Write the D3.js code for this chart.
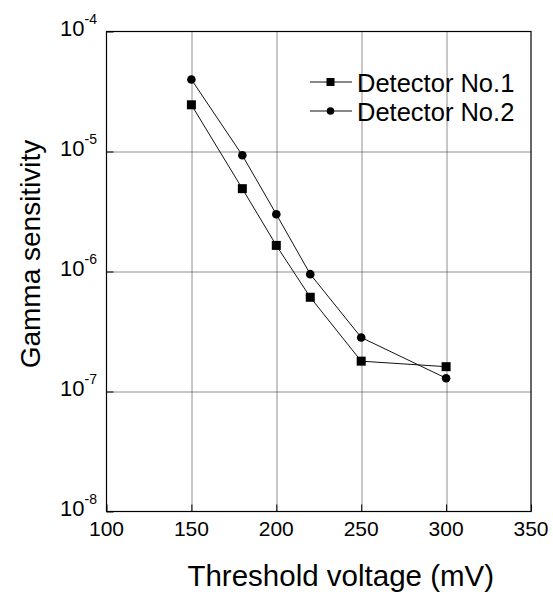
<!DOCTYPE html>
<html>
<head>
<meta charset="utf-8">
<script src="https://cdn.jsdelivr.net/npm/d3@7"></script>
<style>
  body { margin: 0; background: #fff; }
  text { font-family: "Liberation Sans", Arial, sans-serif; fill: #000; }
</style>
</head>
<body>
<div id="chart"></div>
<script>
var voltages = [150, 180, 200, 220, 250, 300];
var detector1 = [2.45e-5, 4.9e-6, 1.65e-6, 6.1e-7, 1.79e-7, 1.61e-7];
var detector2 = [3.98e-5, 9.3e-6, 3.0e-6, 9.5e-7, 2.82e-7, 1.29e-7];
var seriesNames = ["Detector No.1", "Detector No.2"];
var xTicks = [100, 150, 200, 250, 300, 350];
var yExponents = [-8, -7, -6, -5, -4];

var svgWidth = 553;
var svgHeight = 595;

var margin = { top: 31.5, right: 22, bottom: 83.5, left: 106.5 };
var chartWidth = svgWidth - margin.left - margin.right;
var chartHeight = svgHeight - margin.top - margin.bottom;

var svg = d3.select("#chart")
  .append("svg")
  .attr("width", svgWidth)
  .attr("height", svgHeight);

var chartGroup = svg.append("g")
  .attr("transform", `translate(${margin.left}, ${margin.top})`);

var xScale = d3.scaleLinear().domain([100, 350]).range([0, chartWidth]);
var yScale = d3.scaleLog().domain([1e-8, 1e-4]).range([chartHeight, 0]);

// dotted grid
chartGroup.selectAll(".vgrid")
  .data(xTicks.slice(1, -1))
  .enter().append("line")
  .attr("x1", d => Math.round(xScale(d)) + 0.5).attr("x2", d => Math.round(xScale(d)) + 0.5)
  .attr("y1", 0).attr("y2", chartHeight)
  .attr("stroke", "#222").attr("stroke-width", 1)
  .attr("stroke-dasharray", "1,1");

chartGroup.selectAll(".hgrid")
  .data(yExponents.slice(1, -1))
  .enter().append("line")
  .attr("x1", 0).attr("x2", chartWidth)
  .attr("y1", d => Math.round(yScale(Math.pow(10, d))) + 0.5)
  .attr("y2", d => Math.round(yScale(Math.pow(10, d))) + 0.5)
  .attr("stroke", "#222").attr("stroke-width", 1)
  .attr("stroke-dasharray", "1,1");

// axes with inner ticks
var bottomAxis = d3.axisBottom(xScale).tickValues(xTicks).tickSize(-7).tickFormat("");
chartGroup.append("g")
  .attr("transform", `translate(0, ${chartHeight})`)
  .call(bottomAxis)
  .call(g => g.select(".domain").remove());

var leftAxis = d3.axisLeft(yScale).tickValues(yExponents.map(e => Math.pow(10, e))).tickSize(-7).tickFormat("");
chartGroup.append("g")
  .call(leftAxis)
  .call(g => g.select(".domain").remove());

// frame
chartGroup.append("rect")
  .attr("width", chartWidth).attr("height", chartHeight)
  .attr("fill", "none").attr("stroke", "#000").attr("stroke-width", 1.2);

// tick labels
chartGroup.selectAll(".xlabel")
  .data(xTicks)
  .enter().append("text")
  .attr("x", d => xScale(d))
  .attr("y", chartHeight + 24)
  .attr("text-anchor", "middle")
  .style("font-size", "21px")
  .text(d => d);

var yLabels = chartGroup.selectAll(".ylabel")
  .data(yExponents)
  .enter().append("text")
  .attr("x", -9.5)
  .attr("y", d => yScale(Math.pow(10, d)) + 4)
  .attr("text-anchor", "end")
  .style("font-size", "22px");
yLabels.append("tspan").text("10");
yLabels.append("tspan")
  .attr("dy", -12)
  .style("font-size", "14px")
  .text(d => d);

// lines and markers
var line = d3.line()
  .x((d, i) => xScale(voltages[i]))
  .y(d => yScale(d));

[detector1, detector2].forEach(function(values) {
  chartGroup.append("path")
    .datum(values)
    .attr("d", line)
    .attr("fill", "none")
    .attr("stroke", "#111")
    .attr("stroke-width", 1);
});

chartGroup.selectAll(".sq")
  .data(detector1)
  .enter().append("rect")
  .attr("x", (d, i) => xScale(voltages[i]) - 4.5)
  .attr("y", d => yScale(d) - 4.5)
  .attr("width", 9).attr("height", 9)
  .attr("fill", "#000");

chartGroup.selectAll(".dot")
  .data(detector2)
  .enter().append("circle")
  .attr("cx", (d, i) => xScale(voltages[i]))
  .attr("cy", d => yScale(d))
  .attr("r", 4.3)
  .attr("fill", "#000");

// legend
var legend = svg.append("g").attr("transform", "translate(310, 82)");
seriesNames.forEach(function(name, i) {
  var row = legend.append("g").attr("transform", `translate(0, ${i * 29})`);
  row.append("line")
    .attr("x1", 0).attr("x2", 42).attr("y1", 0).attr("y2", 0)
    .attr("stroke", "#111").attr("stroke-width", 1);
  if (i === 0) {
    row.append("rect").attr("x", 16.5).attr("y", -4).attr("width", 8).attr("height", 8).attr("fill", "#000");
  } else {
    row.append("circle").attr("cx", 20.5).attr("cy", 0).attr("r", 3.8).attr("fill", "#000");
  }
  row.append("text")
    .attr("x", 47).attr("y", 9.5)
    .style("font-size", "25.5px")
    .text(name);
});

// axis titles
svg.append("text")
  .attr("x", margin.left + chartWidth / 2 + 22)
  .attr("y", 586)
  .attr("text-anchor", "middle")
  .style("font-size", "29.5px")
  .text("Threshold voltage (mV)");

svg.append("text")
  .attr("transform", "translate(40, 254) rotate(-90)")
  .attr("text-anchor", "middle")
  .style("font-size", "28px")
  .text("Gamma sensitivity");
</script>
</body>
</html>
